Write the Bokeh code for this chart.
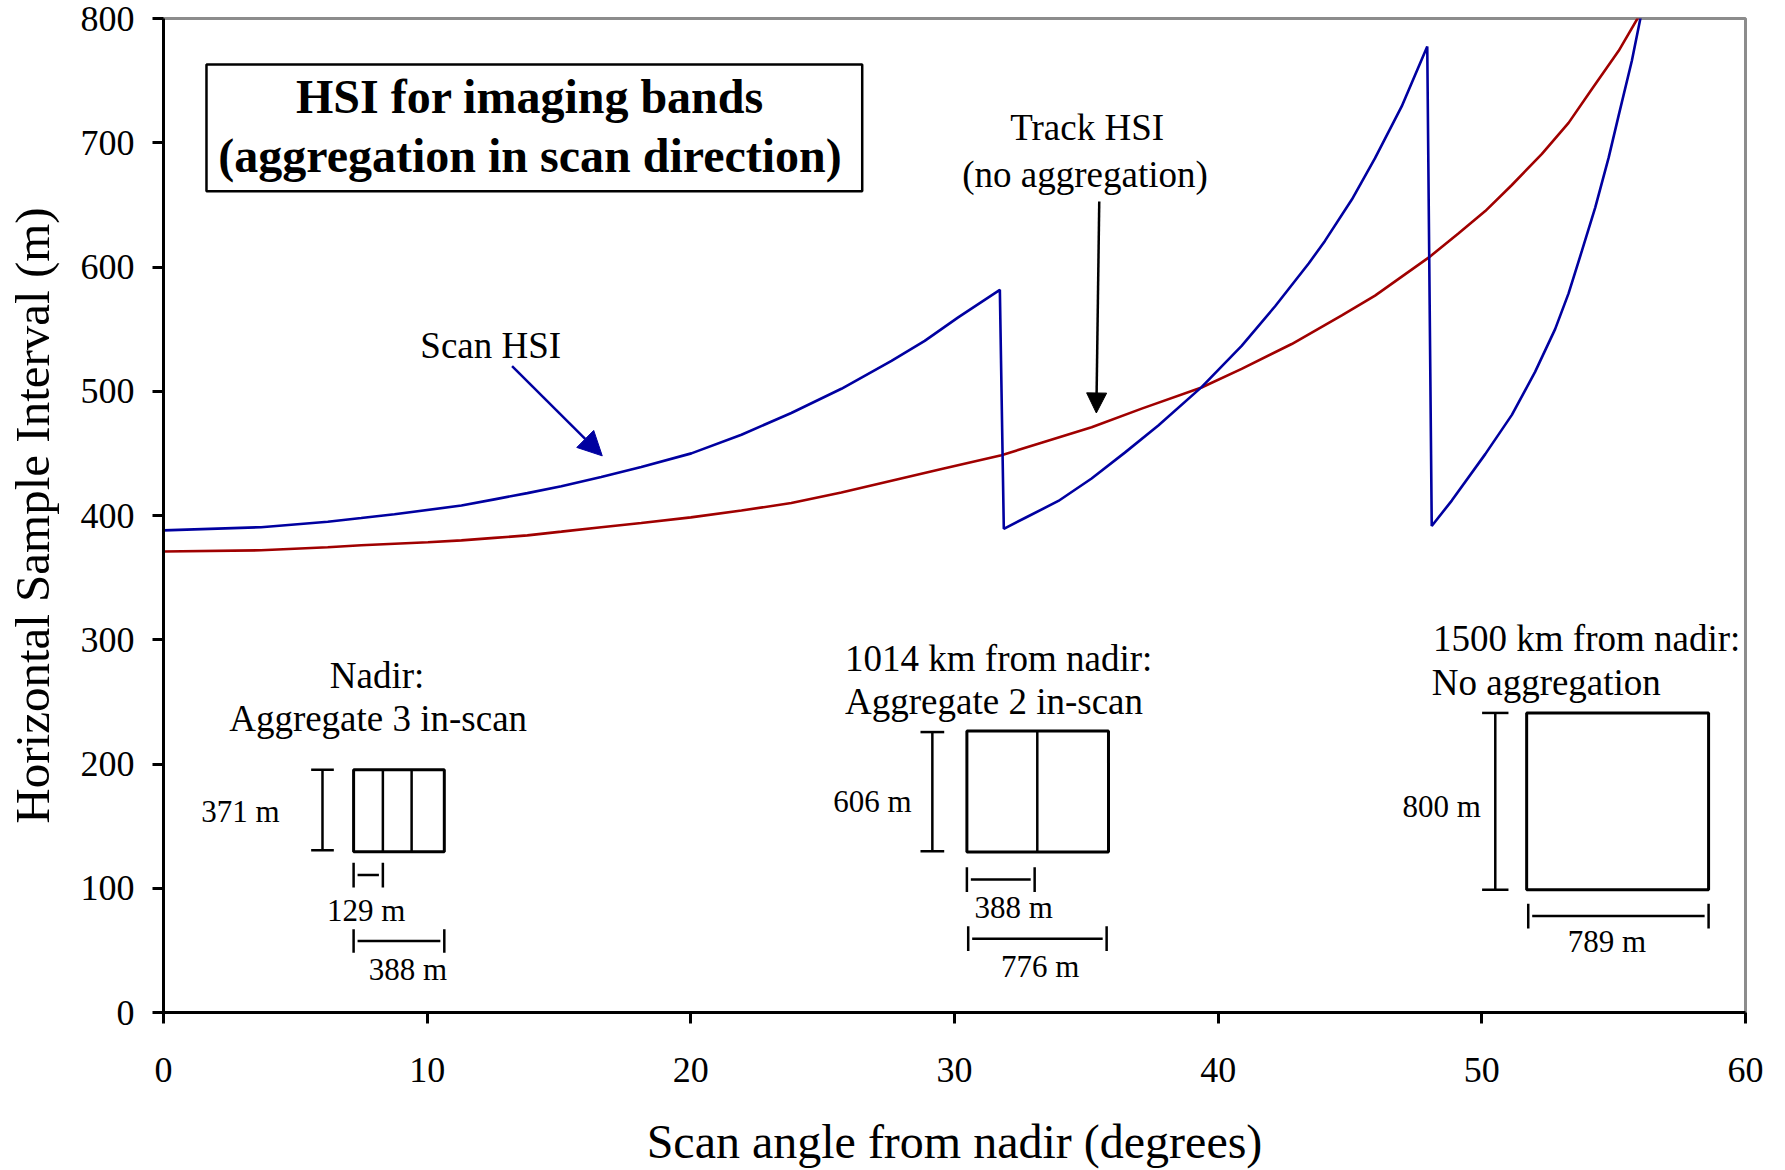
from bokeh.plotting import figure
from bokeh.models import Range1d, FixedTicker, Label, Arrow, NormalHead, BoxAnnotation, ColumnDataSource
from bokeh.embed import file_html
from bokeh.resources import INLINE

# ---------------- data ----------------
track_angle = [0, 3.7, 6.23, 7.5, 10.03, 11.3, 12.55, 13.8, 15.09, 16.6, 18.12, 20.0,
               21.92, 23.81, 25.71, 27.61, 29.51, 31.78, 33.3, 35.2, 37.1, 39.37,
               40.89, 42.79, 44.69, 45.95, 47.98, 49.11, 50.13, 51.14, 52.28,
               53.29, 54.17, 55.19, 56.07]
track_hsi = [371, 372, 374.5, 376, 378.5, 380, 382, 384, 387, 390.6, 394, 398.5,
             404, 410, 418.5, 428, 437.5, 448.5, 458.5, 471, 486, 503,
             518, 538, 561, 577, 607.5, 627, 645, 666, 691,
             716, 743, 774, 806]

scan_angle = [0, 3.7, 6.23, 7.5, 8.76, 11.3, 12.55, 13.8, 15.09, 16.6, 18.12, 20.02,
              21.92, 23.81, 25.71, 27.61, 28.87, 30.14, 31.72,
              31.87, 32.67, 33.94, 35.2, 36.46, 37.73, 39.37, 40.89, 42.16, 43.44,
              44.05, 45.07, 45.95, 46.96, 47.93,
              48.1, 48.86, 50.13, 51.14, 52.02, 52.78, 53.29, 53.8, 54.3, 54.81,
              55.19, 55.69, 56.07]
scan_hsi = [388, 390.6, 395, 398, 401, 408, 413, 418, 423.5, 431, 439, 450,
            465, 482.5, 502, 524.5, 540.5, 559.5, 581.6,
            389.3, 398, 411.7, 429.8, 450.6, 472.5, 503.3, 536.5, 568.4, 603,
            621, 654.3, 687.6, 729.2, 777.5,
            391.5, 412, 449.4, 481, 515.6, 550, 578.8, 613.3, 647.8, 688,
            722, 766, 806]

x_ticks = [0, 10, 20, 30, 40, 50, 60]
y_ticks = [0, 100, 200, 300, 400, 500, 600, 700, 800]

FONT = "Liberation Serif"
BLUE = "#0000A0"
RED = "#A00000"
PX_PER_UNIT_Y = 994 / 800.0   # frame height / y span

p = figure(width=1785, height=1170, x_range=Range1d(0, 60), y_range=Range1d(0, 800),
           output_backend="svg", toolbar_location=None,
           min_border_left=163, min_border_right=40, min_border_top=18, min_border_bottom=158)
p.xgrid.visible = False
p.ygrid.visible = False
p.outline_line_color = "#8c8c8c"
p.outline_line_width = 3
p.background_fill_color = "white"
p.border_fill_color = "white"

for ax in (p.xaxis[0], p.yaxis[0]):
    ax.axis_line_color = "black"
    ax.axis_line_width = 3
    ax.major_tick_line_color = "black"
    ax.major_tick_line_width = 3
    ax.major_tick_in = 0
    ax.major_tick_out = 11
    ax.minor_tick_line_color = None
    ax.major_label_text_font = FONT
    ax.major_label_text_font_size = "36px"
    ax.major_label_text_color = "black"
    ax.axis_label_text_font = FONT
    ax.axis_label_text_font_style = "normal"
    ax.axis_label_text_color = "black"

p.xaxis.ticker = FixedTicker(ticks=x_ticks)
p.yaxis.ticker = FixedTicker(ticks=y_ticks)
p.xaxis.axis_label = "Scan angle from nadir (degrees)"
p.yaxis.axis_label = "Horizontal Sample Interval (m)"
p.xaxis.axis_label_text_font_size = "48px"
p.yaxis.axis_label_text_font_size = "49px"
p.xaxis.major_label_standoff = 34
p.yaxis.major_label_standoff = 18
p.xaxis.axis_label_standoff = 30
p.yaxis.axis_label_standoff = 18

# ---------------- curves ----------------
p.line(x="x", y="y", source=ColumnDataSource(dict(x=track_angle, y=track_hsi)),
       line_color=RED, line_width=2.6)
p.line(x="x", y="y", source=ColumnDataSource(dict(x=scan_angle, y=scan_hsi)),
       line_color=BLUE, line_width=2.6)

# ---------------- title box ----------------
p.add_layout(BoxAnnotation(left=1.63, right=26.5, bottom=661, top=763,
                           fill_color="white", fill_alpha=1.0,
                           line_color="black", line_width=2.5, line_alpha=1.0))

def txt(x, y, s, size=37, align="center", style="normal"):
    # y is the wanted baseline; compensate the renderer's baseline placement
    yy = y + 0.3 * size / PX_PER_UNIT_Y
    p.add_layout(Label(x=x, y=yy, text=s, text_align=align, text_baseline="alphabetic",
                       text_font=FONT, text_font_size=f"{size}px", text_font_style=style,
                       text_color="black"))

txt(13.9, 725.5, "HSI for imaging bands", size=48, style="bold")
txt(13.9, 678.0, "(aggregation in scan direction)", size=48, style="bold")

# ---------------- curve annotations ----------------
txt(12.41, 528, "Scan HSI")
p.add_layout(Arrow(end=NormalHead(size=24, fill_color=BLUE, line_color=BLUE, line_width=1),
                   x_start=13.22, y_start=520.3, x_end=16.64, y_end=448,
                   line_color=BLUE, line_width=2.5))
txt(35.03, 703.7, "Track HSI")
txt(34.95, 665.4, "(no aggregation)")
p.add_layout(Arrow(end=NormalHead(size=20, fill_color="black", line_color="black", line_width=1),
                   x_start=35.49, y_start=652.8, x_end=35.38, y_end=482.5,
                   line_color="black", line_width=2.5))

# ---------------- pixel diagrams ----------------
def rect(l, r, b, t, dividers=()):
    p.quad(left=[l], right=[r], bottom=[b], top=[t], fill_color=None,
           line_color="black", line_width=3)
    if dividers:
        p.segment(x0=list(dividers), y0=[b] * len(dividers), x1=list(dividers), y1=[t] * len(dividers),
                  line_color="black", line_width=2.5)

def vbar_dim(x, b, t, half):
    p.segment(x0=[x, x - half, x - half], y0=[b, b, t], x1=[x, x + half, x + half], y1=[t, b, t],
              line_color="black", line_width=2.5)

def hbar_dim(l, r, y, half):
    p.segment(x0=[l + 0.15, l, r], y0=[y, y - half, y - half], x1=[r - 0.15, l, r], y1=[y, y + half, y + half],
              line_color="black", line_width=2.5)

# nadir
rect(7.21, 10.65, 129.3, 195.4, dividers=(8.32, 9.41))
vbar_dim(6.03, 130.5, 195.4, 0.43)
hbar_dim(7.21, 8.32, 110.6, 10)
hbar_dim(7.21, 10.65, 57.6, 9.5)
txt(8.10, 262, "Nadir:")
txt(8.14, 228, "Aggregate 3 in-scan")
txt(2.92, 154.5, "371 m", size=31)
txt(7.83, 74.3, "129  m", size=31)
txt(9.27, 27.4, "388 m", size=31)

# 1014 km
rect(30.47, 35.84, 129.1, 226.6, dividers=(33.14,))
vbar_dim(29.16, 129.7, 225.7, 0.45)
hbar_dim(30.47, 33.04, 107, 10)
hbar_dim(30.52, 35.77, 59.4, 10)
txt(25.85, 275.7, "1014 km from nadir:", align="left")
txt(25.85, 241.1, "Aggregate 2 in-scan", align="left")
txt(26.89, 162, "606 m", size=31)
txt(32.24, 76.7, "388 m", size=31)
txt(33.25, 29.8, "776 m", size=31)

# 1500 km
rect(51.7, 58.6, 98.75, 241.1)
vbar_dim(50.51, 98.75, 241.1, 0.5)
hbar_dim(51.76, 58.6, 77.6, 10)
txt(48.15, 292.3, "1500 km from nadir:", align="left")
txt(48.1, 256.8, "No aggregation", align="left")
txt(48.48, 158.5, "800 m", size=31)
txt(54.74, 49.4, "789 m", size=31)

open("out.html", "w").write(file_html(p, INLINE))
